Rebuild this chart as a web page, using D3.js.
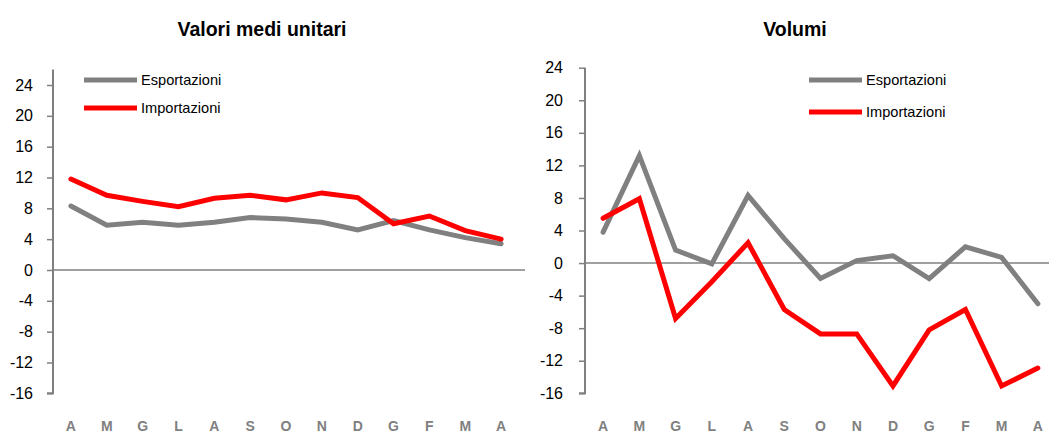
<!DOCTYPE html>
<html>
<head>
<meta charset="utf-8">
<script src="https://cdn.jsdelivr.net/npm/d3@7"></script>
<style>
  body { margin: 0; background: #fff; }
  svg { display: block; font-family: "Liberation Sans", Arial, sans-serif; }
</style>
</head>
<body>
<svg id="chart" width="1049" height="433"></svg>
<script>
// months (aprile -> aprile)
var months = ["A", "M", "G", "L", "A", "S", "O", "N", "D", "G", "F", "M", "A"];
var yTicks = [-16, -12, -8, -4, 0, 4, 8, 12, 16, 20, 24];
var seriesNames = ["Esportazioni", "Importazioni"];
var seriesColors = ["#808080", "#ff0000"];

// Valori medi unitari
var valoriExport = [8.3, 5.8, 6.2, 5.8, 6.2, 6.8, 6.6, 6.2, 5.2, 6.4, 5.2, 4.2, 3.4];
var valoriImport = [11.8, 9.7, 8.9, 8.2, 9.3, 9.7, 9.1, 10.0, 9.4, 6.0, 7.0, 5.1, 4.0];

// Volumi
var volumiExport = [3.8, 13.2, 1.6, -0.1, 8.3, 3.0, -1.9, 0.3, 0.9, -1.9, 2.0, 0.7, -5.0];
var volumiImport = [5.5, 7.9, -6.8, -2.3, 2.5, -5.7, -8.7, -8.7, -15.1, -8.2, -5.7, -15.1, -12.9];

var svg = d3.select("#chart");

function panel(opts) {
  var g = svg.append("g");

  var x = d3.scaleBand().domain(d3.range(months.length)).range([opts.x0, opts.x1]);
  var y = d3.scaleLinear().domain(opts.domain).range([opts.yBottom, opts.yTop]);

  // title
  g.append("text")
    .attr("x", opts.titleX).attr("y", 36)
    .attr("text-anchor", "middle")
    .style("font-weight", "bold").style("font-size", "19.5px")
    .text(opts.title);

  // zero line
  g.append("line")
    .attr("x1", opts.x0).attr("x2", opts.zeroEnd)
    .attr("y1", y(0)).attr("y2", y(0))
    .attr("stroke", "#808080").attr("stroke-width", 1.5);

  // y axis
  var axis = d3.axisLeft(y).tickValues(yTicks).tickSize(6).tickPadding(opts.pad)
    .tickFormat(function (d) { return String(d); });
  var ag = g.append("g").attr("transform", "translate(" + opts.x0 + ",0)").call(axis);
  ag.select(".domain").attr("stroke", "#808080").attr("stroke-width", 2)
    .attr("d", "M-6," + y(opts.domain[0]) + "H0V" + y(opts.domain[1]));
  ag.selectAll(".tick line").attr("stroke", "#808080").attr("stroke-width", 1.5);
  ag.selectAll(".tick text").attr("fill", "#000").style("font-size", "16px")
    .style("font-family", "'Liberation Sans', Arial, sans-serif");

  // x labels
  g.selectAll(".xl").data(months).enter().append("text")
    .attr("x", function (d, i) { return x(i) + x.bandwidth() / 2; })
    .attr("y", 431)
    .attr("text-anchor", "middle")
    .attr("fill", "#808080")
    .style("font-weight", "bold").style("font-size", "14px")
    .text(function (d) { return d; });

  var line = d3.line()
    .x(function (d, i) { return x(i) + x.bandwidth() / 2; })
    .y(function (d) { return y(d); });

  [opts.exp, opts.imp].forEach(function (s, k) {
    g.append("path").datum(s)
      .attr("d", line)
      .attr("fill", "none")
      .attr("stroke", seriesColors[k])
      .attr("stroke-width", 5)
      .attr("stroke-linejoin", "miter")
      .attr("stroke-linecap", "round");
  });

  // legend
  seriesNames.forEach(function (n, k) {
    var ly = opts.legY[k];
    g.append("line")
      .attr("x1", opts.legX).attr("x2", opts.legX + 53)
      .attr("y1", ly).attr("y2", ly)
      .attr("stroke", seriesColors[k]).attr("stroke-width", 5);
    g.append("text")
      .attr("x", opts.legX + 57).attr("y", ly + 5)
      .style("font-size", "14.6px")
      .text(n);
  });
}

panel({
  title: "Valori medi unitari", titleX: 262,
  x0: 53, x1: 519, zeroEnd: 525,
  domain: [-16, 26], yBottom: 393.3, yTop: 69.6,
  pad: 14,
  exp: valoriExport, imp: valoriImport,
  legX: 84, legY: [80, 108]
});

panel({
  title: "Volumi", titleX: 795,
  x0: 585, x1: 1056, zeroEnd: 1049,
  domain: [-16, 24], yBottom: 393.3, yTop: 67.7,
  pad: 16,
  exp: volumiExport, imp: volumiImport,
  legX: 809, legY: [80, 112]
});
</script>
</body>
</html>
